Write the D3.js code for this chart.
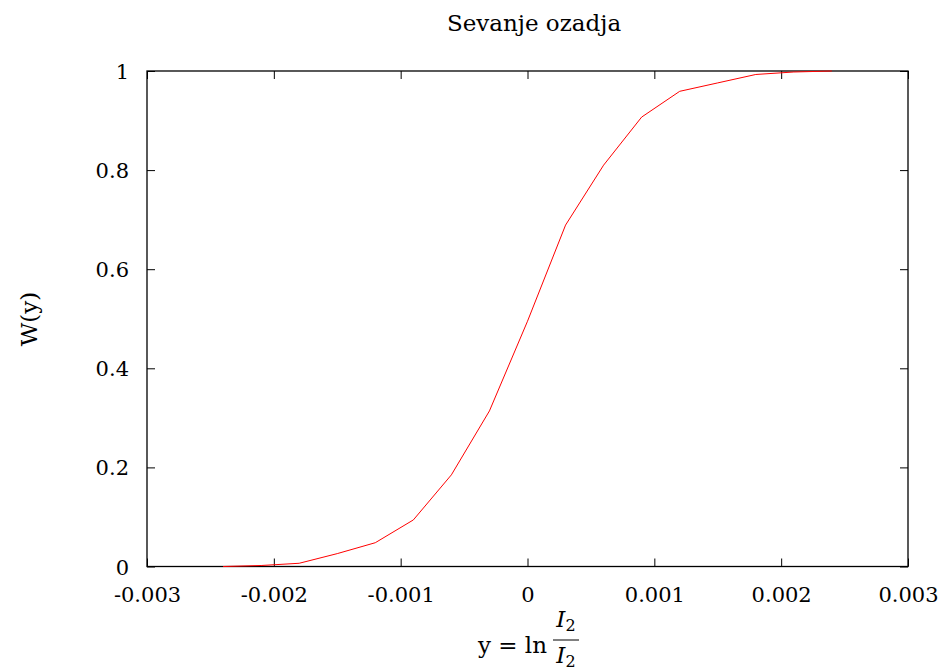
<!DOCTYPE html>
<html>
<head>
<meta charset="utf-8">
<script src="https://cdn.jsdelivr.net/npm/d3@7"></script>
<style>
  body { margin: 0; background: #fff; }
  svg text { fill: #000; }
</style>
</head>
<body>
<svg id="chart" width="947" height="671"></svg>
<script>
// podatki
var yVals = [-0.0024, -0.0021, -0.0018, -0.0015, -0.0012, -0.0009, -0.0006, -0.0003, 0,
             0.0003, 0.0006, 0.0009, 0.0012, 0.0015, 0.0018, 0.0021, 0.0024];
var wVals = [0.0, 0.002, 0.0065, 0.026, 0.048, 0.094, 0.185, 0.314, 0.495,
             0.689, 0.810, 0.907, 0.959, 0.976, 0.993, 0.998, 1.0];
var xTicks = [-0.003, -0.002, -0.001, 0, 0.001, 0.002, 0.003];
var xTickLabels = ["-0.003", "-0.002", "-0.001", "0", "0.001", "0.002", "0.003"];
var yTicks = [0, 0.2, 0.4, 0.6, 0.8, 1];
var yTickLabels = ["0", "0.2", "0.4", "0.6", "0.8", "1"];

(function () {
    var mL = 147, mR = 908, mT = 71, mB = 566.5;
    var fs = "21px", fsL = "23px";
    var ff = "DejaVu Serif";
    var svg = d3.select("#chart");

    var x = d3.scaleLinear().domain([-0.003, 0.003]).range([mL, mR]);
    var y = d3.scaleLinear().domain([0, 1]).range([mB, mT]);

    // osi (ticki navznoter, zrcaljeni)
    var tl = 8;
    var gx = svg.append("g").attr("transform", "translate(0," + mB + ")")
        .call(d3.axisBottom(x).tickValues(xTicks).tickSize(-tl).tickFormat((d, i) => xTickLabels[i]));
    gx.selectAll(".tick text").attr("y", 35).attr("dy", null);
    svg.append("g").attr("transform", "translate(0," + mT + ")")
        .call(d3.axisTop(x).tickValues(xTicks).tickSize(-tl).tickFormat(""));
    var gy = svg.append("g").attr("transform", "translate(" + mL + ",0)")
        .call(d3.axisLeft(y).tickValues(yTicks).tickSize(-tl).tickFormat((d, i) => yTickLabels[i]));
    gy.selectAll(".tick text").attr("x", -18).attr("dy", "0.36em");
    svg.append("g").attr("transform", "translate(" + mR + ",0)")
        .call(d3.axisRight(y).tickValues(yTicks).tickSize(-tl).tickFormat(""));

    svg.selectAll(".domain").remove();
    svg.selectAll("g").attr("font-family", null);
    svg.selectAll(".tick line").attr("stroke", "#000").attr("stroke-width", 1);
    svg.selectAll(".tick text").style("font-size", fs);

    svg.append("rect")
        .attr("x", mL).attr("y", mT)
        .attr("width", mR - mL).attr("height", mB - mT)
        .attr("fill", "none").attr("stroke", "#000").attr("stroke-width", 1.3);

    // krivulja
    var line = d3.line().x((d, i) => x(yVals[i])).y(d => y(d));
    svg.append("path")
        .datum(wVals)
        .attr("d", line)
        .attr("fill", "none")
        .attr("stroke", "#ff0000")
        .attr("stroke-width", 1);

    // naslov
    svg.append("text")
        .attr("x", 534).attr("y", 31)
        .attr("text-anchor", "middle")
        .style("font-size", fsL)
        .text("Sevanje ozadja");

    // oznaka y
    svg.append("text")
        .attr("transform", "translate(37,319) rotate(-90)")
        .attr("text-anchor", "middle")
        .style("font-size", fsL)
        .text("W(y)");

    // oznaka x: y = ln I2/I2
    var xl = svg.append("g");
    xl.append("text")
        .attr("x", 547).attr("y", 653)
        .attr("text-anchor", "end")
        .style("font-size", fsL)
        .text("y = ln");
    [627, 663].forEach(function (by) {
        var t = xl.append("text")
            .attr("x", 566).attr("y", by)
            .attr("text-anchor", "middle")
            .style("font-size", fsL);
        t.append("tspan").style("font-style", "italic").text("I");
        t.append("tspan").attr("dy", 4).style("font-size", "16px").text("2");
    });
    xl.append("line")
        .attr("x1", 553).attr("x2", 579)
        .attr("y1", 640).attr("y2", 640)
        .attr("stroke", "#000").attr("stroke-width", 1);

    svg.selectAll("text").attr("font-family", ff).style("font-family", ff);
})();
</script>
</body>
</html>
